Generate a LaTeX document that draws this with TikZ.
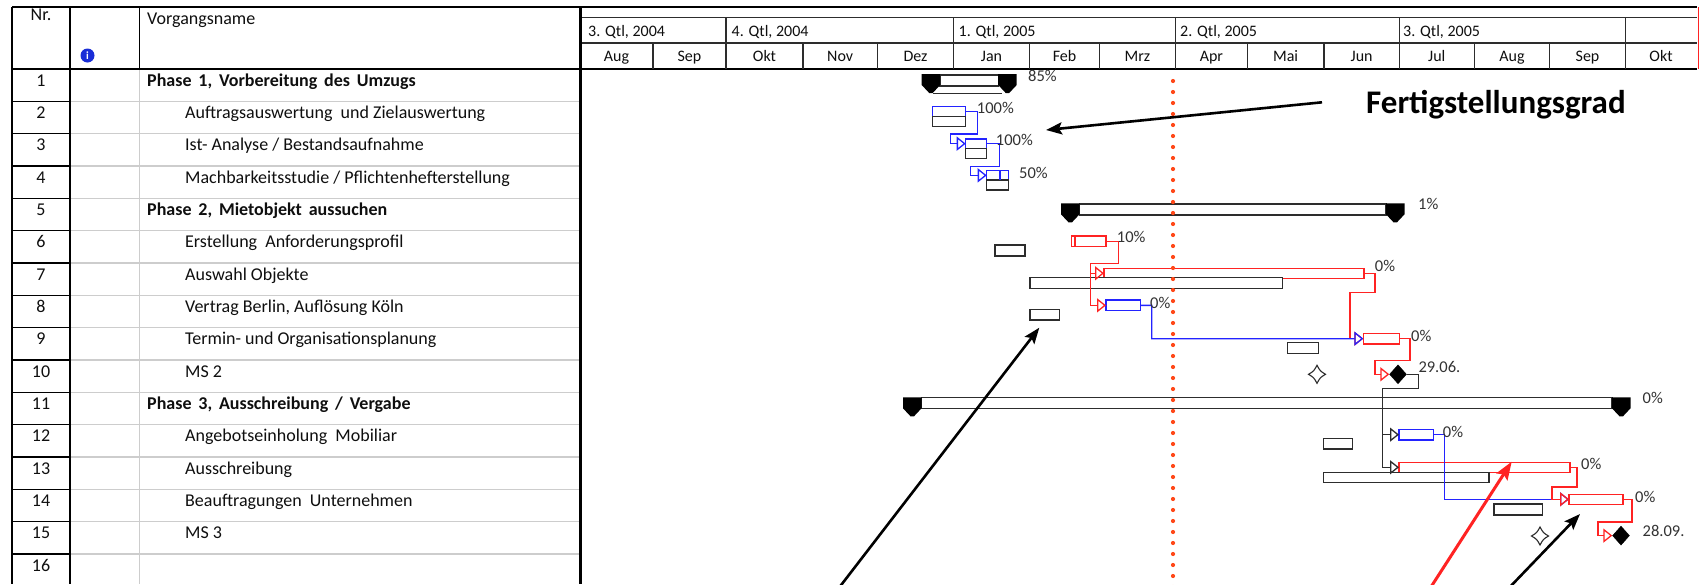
\documentclass[tikz,border=0pt]{standalone}
\usepackage{fontspec}
\setmainfont{Carlito}
\usetikzlibrary{arrows.meta,shapes.geometric}
\definecolor{msblue}{RGB}{35,35,255}
\definecolor{msred}{RGB}{255,35,35}
\definecolor{dotred}{RGB}{255,72,25}
\definecolor{gridgray}{RGB}{205,205,205}
\definecolor{barline}{RGB}{45,45,45}
\definecolor{infoblue}{RGB}{25,45,215}
\definecolor{txt}{RGB}{15,15,15}
\newcommand\gbar[6]{\node[gbox, draw=#2, minimum width={(#5)-(#3)}, minimum height={(#6)-(#4)}] (#1) at (#3,#4) {};}
\newcommand\sumcap[2]{\fill[black] (#1,#2+5) -- (#1+18.5,#2+5) -- (#1+18.5,#2+16) -- (#1+11,#2+24) -- (#1+7.5,#2+24) -- (#1,#2+16) -- cycle;}
\newcommand\hollowms[2]{\draw[line width=1.1pt, barline, fill=white] (#1+8.5,#2) .. controls (#1+3.2,#2-3.2) .. (#1,#2-9) .. controls (#1-3.2,#2-3.2) .. (#1-8.5,#2) .. controls (#1-3.2,#2+3.2) .. (#1,#2+9) .. controls (#1+3.2,#2+3.2) .. (#1+8.5,#2) -- cycle;}
\newcommand\widesp{\spaceskip=0.38em plus 0.1em\relax}
\tikzset{
  tbl/.style={font=\fontsize{18}{20}\selectfont, text=txt, inner sep=0pt},
  tblb/.style={font=\fontsize{18}{20}\selectfont\bfseries, text=txt, inner sep=0pt},
  hdr/.style={font=\fontsize{16}{19}\selectfont, text=txt, inner sep=0pt},
  pct/.style={font=\fontsize{16.5}{19}\selectfont, text=black!80, inner sep=0pt, anchor=west},
  gbox/.style={draw, line width=1.4pt, inner sep=0pt, outer sep=0pt, anchor=north west, fill=white},
  blink/.style={draw=msblue, line width=1.3pt, -{Triangle[open, length=9pt, width=14pt, line width=1.3pt]}},
  rlink/.style={draw=msred, line width=1.3pt, -{Triangle[open, length=9pt, width=14pt, line width=1.3pt]}},
  klink/.style={draw=barline, line width=1.3pt, -{Triangle[open, length=9pt, width=14pt, line width=1.3pt]}},
  ms/.style={diamond, fill=black, draw=black, minimum width=17pt, minimum height=19pt, inner sep=0pt},
  anno/.style={draw=black, line width=2.6pt, -{Stealth[length=16pt, width=12pt, inset=3pt]}},
  annor/.style={draw=msred, line width=3pt, -{Stealth[length=18pt, width=13pt, inset=3pt]}}
}
\begin{document}
\begin{tikzpicture}[x=1pt,y=-1pt]
\useasboundingbox (0,0) rectangle (1700,584);
\fill[white] (0,0) rectangle (1700,584);

% ---- row separators
\foreach \i in {2,...,16}{
  \pgfmathsetmacro\yy{69+(\i-1)*32.333}
  \draw[gridgray, line width=1.5pt] (70,\yy) -- (580,\yy);
  \draw[black, line width=1.5pt] (12,\yy) -- (70,\yy);
}
% ---- table frame
\draw[gridgray, line width=1.5pt] (139.5,69) -- (139.5,584);
\draw[black, line width=1.5pt] (139.5,7) -- (139.5,69);
\draw[black, line width=1.6pt] (12,7) -- (1697,7);
\draw[barline, line width=1.3pt] (580,17.3) -- (1697,17.3);
\draw[barline, line width=1.3pt] (580,43) -- (1697,43);
\draw[black, line width=2pt] (12,69) -- (1697,69);
\draw[black, line width=2pt] (12,7) -- (12,584);
\draw[black, line width=2pt] (70,7) -- (70,584);
\foreach \x in {726,953.6,1175.4,1399.3,1625.4} \draw[barline, line width=1.3pt] (\x,17.3) -- (\x,43);
\foreach \x in {653,726,803,877.5,953.6,1029.4,1099.5,1175.4,1247.3,1323.9,1399.3,1474.3,1549.7,1625.4} \draw[barline, line width=1.3pt] (\x,43) -- (\x,69);
\draw[black, line width=3pt] (580,7) -- (580,584);
\draw[msred, line width=0.8pt] (1698.6,7) -- (1698.6,69);

% ---- table header
\node[tbl, anchor=base] (hnr) at (41,20.5) {Nr.};
\node[tbl, anchor=base west] (hname) at (147,24.5) {Vorgangsname};
\node[circle, fill=infoblue, minimum size=14pt, inner sep=0pt] (info) at (87.5,55.5) {};
\node[text=white, font=\bfseries\fontsize{11}{11}\selectfont, inner sep=0pt] (infoi) at (info.center) {i};

% ---- chart header
\foreach \q/\x [count=\k] in {{3. Qtl, 2004}/588, {4. Qtl, 2004}/731.5, {1. Qtl, 2005}/958.5, {2. Qtl, 2005}/1180, {3. Qtl, 2005}/1403}
  \node[hdr, anchor=base west] (q\k) at (\x,36.5) {\q};
\foreach \m/\c [count=\k] in {Aug/616.5, Sep/689.5, Okt/764.5, Nov/840.2, Dez/915.5, Jan/991.5, Feb/1064.5, Mrz/1137.5, Apr/1211.4, Mai/1285.6, Jun/1361.6, Jul/1436.8, Aug/1512, Sep/1587.5, Okt/1661}
  \node[hdr, anchor=base] (mo\k) at (\c,61) {\m};

% ---- numbers
\foreach \i in {1,...,16}
  \node[tbl, anchor=base] (nr\i) at (41,{69+(\i-1)*32.333+17}) {\i};

% ---- task names
\node[tblb, anchor=base west] (t1) at (147,86) {\widesp Phase 1, Vorbereitung des Umzugs};
\node[tbl, anchor=base west] (t2) at (185,118.3) {Auftragsauswertung\ \ und Zielauswertung};
\node[tbl, anchor=base west] (t3) at (185,150.7) {Ist- Analyse / Bestandsaufnahme};
\node[tbl, anchor=base west] (t4) at (185,183) {Machbarkeitsstudie / Pflichtenhefterstellung};
\node[tblb, anchor=base west] (t5) at (147,215.3) {\widesp Phase 2, Mietobjekt aussuchen};
\node[tbl, anchor=base west] (t6) at (185,247.7) {Erstellung\ \ Anforderungsprofil};
\node[tbl, anchor=base west] (t7) at (185,280) {Auswahl Objekte};
\node[tbl, anchor=base west] (t8) at (185,312.3) {Vertrag Berlin, Auflösung Köln};
\node[tbl, anchor=base west] (t9) at (185,344.7) {Termin- und Organisationsplanung};
\node[tbl, anchor=base west] (t10) at (185,377) {MS 2};
\node[tblb, anchor=base west] (t11) at (147,409.3) {\widesp Phase 3, Ausschreibung / Vergabe};
\node[tbl, anchor=base west] (t12) at (185,441.7) {Angebotseinholung\ \ Mobiliar};
\node[tbl, anchor=base west] (t13) at (185,474) {Ausschreibung};
\node[tbl, anchor=base west] (t14) at (185,506.3) {Beauftragungen\ \ Unternehmen};
\node[tbl, anchor=base west] (t15) at (185,538.7) {MS 3};

% ---- summary bars
\node[gbox, draw=barline, minimum width=58.2, minimum height=11] (s1) at (940,75) {};
\sumcap{921.7}{69}\sumcap{998.2}{69}
\draw[barline, line width=1.3pt] (933,93.3) -- (1002,93.3);
\node[gbox, draw=barline, minimum width=306.5, minimum height=11] (s5) at (1079.5,204) {};
\sumcap{1061}{198.3}\sumcap{1386}{198.3}
\node[gbox, draw=barline, minimum width=690.5, minimum height=11] (s11) at (921.5,397.3) {};
\sumcap{903}{392.3}\sumcap{1612}{392.3}

% ---- task bars (actual) and baselines
\gbar{b2}{msblue}{932.7}{106.7}{965.7}{116.7}
\gbar{c2}{barline}{932.7}{116.7}{965.7}{126.7}
\gbar{b3}{msblue}{965.7}{139}{986.7}{148.3}
\gbar{c3}{barline}{965.7}{148.3}{986.7}{158.7}
\gbar{b4}{msblue}{986.7}{170.7}{1008.3}{180}
\gbar{c4}{barline}{986.7}{180}{1008.3}{190}
\draw[msblue, line width=1.2pt] (1000,170.7) -- (1000,180);
\gbar{b6}{msred}{1071.7}{236}{1106}{246.7}
\draw[msred, line width=1.2pt] (1075,236) -- (1075,246.7);
\gbar{c6}{barline}{995}{245}{1025}{256}
\gbar{b7}{msred}{1104}{268.3}{1364}{278.3}
\gbar{c7}{barline}{1030}{277.3}{1282.7}{288.3}
\gbar{b8}{msblue}{1106}{300}{1140.7}{310.7}
\gbar{c8}{barline}{1030}{309.3}{1059.3}{320}
\gbar{b9}{msred}{1363.3}{333.3}{1399.3}{344}
\gbar{c9}{barline}{1287.7}{342.7}{1318.3}{353.3}
\gbar{b12}{msblue}{1399}{429.3}{1433.5}{440}
\gbar{c12}{barline}{1323.3}{438.5}{1352.5}{449}
\gbar{b13}{msred}{1399}{462.3}{1570}{472.3}
\gbar{c13}{barline}{1323.3}{472.3}{1489}{482.7}
\gbar{b14}{msred}{1569}{494.3}{1623}{504.3}
\gbar{c14}{barline}{1494}{504}{1542.7}{515}

% ---- milestones
\node[ms] (m10) at (1398,374.3) {};
\node[ms] (m15) at (1621,535.6) {};
\hollowms{1317}{374.3}
\hollowms{1540}{536}

% ---- links
\draw[blink] (b2.east) -- (977.3,111.7) -- (977.3,134) -- (950.7,134) |- (b3.west);
\draw[blink] (b3.east) -| (999.3,166.7) -- (970.7,166.7) |- (b4.west);
\coordinate (j6) at (1090.7,263.3);
\draw[rlink] (b6.east) -| (1118.3,263.3) -- (j6) |- (b8.west);
\draw[rlink] (j6) |- (b7.west);
\draw[rlink] (b7.east) -| (1375,292.7) -- (1350,292.7) |- (b9.west);
\draw[blink] (b8.east) -- (1151.7,305.35) |- (b9.west);
\draw[rlink] (b9.east) -| (1410,360.7) -- (1375,360.7) |- (m10.west);
\coordinate (k10) at (1382.3,388.3);
\draw[klink] (m10.east) -| (1418.3,388.3) -- (k10) |- (b12.west);
\draw[klink] (k10) |- (b13.west);
\draw[blink] (b12.east) -| (1444.3,498.3) |- (b14.west);
\draw[rlink] (b13.east) -| (1577,487) -- (1552,487) |- (b14.west);
\draw[rlink] (b14.east) -| (1632,522) -- (1598,522) |- (m15.west);

% ---- labels
\node[pct] (p1) at (1028,75.8) {85\%};
\node[pct] (p2) at (976.7,108.3) {100\%};
\node[pct] (p3) at (995.7,140) {100\%};
\node[pct] (p4) at (1019,173.3) {50\%};
\node[pct] (p5) at (1418,204) {1\%};
\node[pct] (p6) at (1116.7,237.3) {10\%};
\node[pct] (p7) at (1374.7,265.6) {0\%};
\node[pct] (p8) at (1150,303.3) {0\%};
\node[pct] (p9) at (1411,336) {0\%};
\node[pct] (p10) at (1418.3,366.7) {29.06.};
\node[pct] (p11) at (1642.5,398) {0\%};
\node[pct] (p12) at (1442.7,431.7) {0\%};
\node[pct] (p13) at (1581,464) {0\%};
\node[pct] (p14) at (1635,496.6) {0\%};
\node[pct] (p15) at (1642.5,531) {28.09.};

% ---- status date line
\coordinate (d0) at (1173,81);
\coordinate (d1) at (1173,590);
\draw[dotred, line width=4.2pt, line cap=round, dash pattern=on 0pt off 11pt] (d0) -- (d1);

% ---- annotation
\node[font=\bfseries\fontsize{33}{36}\selectfont, text=black, anchor=base west, inner sep=0pt] (fg) at (1366,113.3) {Fertigstellungsgrad};
\coordinate (a1s) at (1322,102.3);
\coordinate (a1e) at (1046,130);
\draw[anno] (a1s) -- (a1e);
\coordinate (a2s) at (837.3,590);
\coordinate (a2e) at (1039.3,327.7);
\draw[anno] (a2s) -- (a2e);
\coordinate (a3s) at (1429,590);
\coordinate (a3e) at (1511.7,461.7);
\draw[annor] (a3s) -- (a3e);
\coordinate (a4s) at (1507,590);
\coordinate (a4e) at (1580,514);
\draw[anno] (a4s) -- (a4e);
\end{tikzpicture}
\end{document}
